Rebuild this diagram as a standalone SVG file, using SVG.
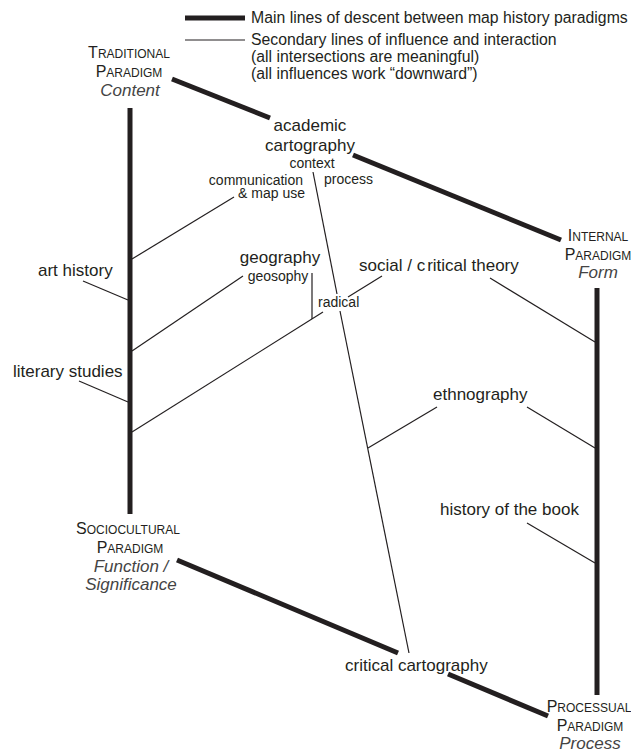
<svg xmlns="http://www.w3.org/2000/svg" width="631" height="754" viewBox="0 0 631 754">
<style>
text{font-family:"Liberation Sans",Arial,sans-serif;fill:#231f20}
.lg{font-size:15.8px}
.big{font-size:17px}
.sm{font-size:14px}
.pc{font-size:16px;text-anchor:middle}
.pc tspan.s{font-size:12px}
.it{font-size:17px;font-style:italic;fill:#444;text-anchor:middle}
.thick{stroke:#231f20;stroke-width:5;fill:none}
.thin{stroke:#231f20;stroke-width:1.2;fill:none}
</style>
<rect width="631" height="754" fill="#fff"/>
<g id="legend">
<line class="thick" x1="185" y1="18" x2="245" y2="18"/>
<line class="thin" x1="185" y1="40" x2="245" y2="40"/>
<text class="lg" x="251" y="23">Main lines of descent between map history paradigms</text>
<text class="lg" x="251" y="45">Secondary lines of influence and interaction</text>
<text class="lg" x="251" y="62">(all intersections are meaningful)</text>
<text class="lg" x="251" y="79">(all influences work “downward”)</text>
</g>
<g id="connectors">
<line class="thick" x1="172" y1="79" x2="270" y2="118"/>
<line class="thick" x1="353" y1="155" x2="561" y2="240"/>
<line class="thick" x1="130" y1="108" x2="130" y2="514"/>
<line class="thick" x1="597" y1="288" x2="597" y2="695"/>
<line class="thick" x1="177" y1="560" x2="398" y2="653"/>
<line class="thick" x1="448" y1="674" x2="548" y2="716"/>
<line class="thin" x1="313" y1="172" x2="337" y2="294"/>
<line class="thin" x1="340" y1="311" x2="409" y2="653"/>
<line class="thin" x1="132" y1="259" x2="234" y2="197"/>
<line class="thin" x1="132" y1="351" x2="243" y2="276"/>
<line class="thin" x1="132" y1="432" x2="323" y2="312"/>
<line class="thin" x1="348" y1="297" x2="382" y2="276"/>
<line class="thin" x1="312" y1="273" x2="312" y2="319"/>
<line class="thin" x1="490" y1="278" x2="595" y2="342"/>
<line class="thin" x1="83" y1="281" x2="128" y2="300"/>
<line class="thin" x1="79" y1="381" x2="128" y2="402"/>
<line class="thin" x1="437" y1="407" x2="368" y2="448"/>
<line class="thin" x1="527" y1="407" x2="595" y2="448"/>
<line class="thin" x1="527" y1="523" x2="595" y2="563"/>
</g>
<g id="traditional">
<text class="pc" x="129" y="58">T<tspan class="s">RADITIONAL</tspan></text>
<text class="pc" x="129" y="77">P<tspan class="s">ARADIGM</tspan></text>
<text class="it" x="130" y="96">Content</text>
</g>
<g id="internal">
<text class="pc" x="598" y="241">I<tspan class="s">NTERNAL</tspan></text>
<text class="pc" x="598" y="260">P<tspan class="s">ARADIGM</tspan></text>
<text class="it" x="598" y="278">Form</text>
</g>
<g id="sociocultural">
<text class="pc" x="128" y="534">S<tspan class="s">OCIOCULTURAL</tspan></text>
<text class="pc" x="130" y="553">P<tspan class="s">ARADIGM</tspan></text>
<text class="it" x="131" y="572">Function /</text>
<text class="it" x="131" y="590">Significance</text>
</g>
<g id="processual">
<text class="pc" x="589" y="712">P<tspan class="s">ROCESSUAL</tspan></text>
<text class="pc" x="590" y="731">P<tspan class="s">ARADIGM</tspan></text>
<text class="it" x="590" y="749">Process</text>
</g>
<g id="academic-cartography">
<text class="big" x="310" y="131" text-anchor="middle">academic</text>
<text class="big" x="310" y="151" text-anchor="middle">cartography</text>
<text class="sm" x="312" y="168" text-anchor="middle">context</text>
<text class="sm" x="324" y="184">process</text>
<text class="sm" x="303" y="185" text-anchor="end">communication</text>
<text class="sm" x="305" y="198" text-anchor="end">&amp; map use</text>
</g>
<g id="geography">
<text class="big" x="280" y="263" text-anchor="middle">geography</text>
<text class="sm" x="278" y="281" text-anchor="middle">geosophy</text>
<text class="sm" x="318" y="307">radical</text>
</g>
<g id="social-critical-theory">
<text class="big" x="359" y="271">social / c<tspan dx="2">ritical theory</tspan></text>
</g>
<g id="art-history"><text class="big" x="38" y="276">art history</text></g>
<g id="literary-studies"><text class="big" x="13" y="377">literary studies</text></g>
<g id="ethnography"><text class="big" x="433" y="400">ethnography</text></g>
<g id="history-of-the-book"><text class="big" x="440" y="515">history of the book</text></g>
<g id="critical-cartography"><text class="big" x="345" y="671">critical cartography</text></g>
</svg>
